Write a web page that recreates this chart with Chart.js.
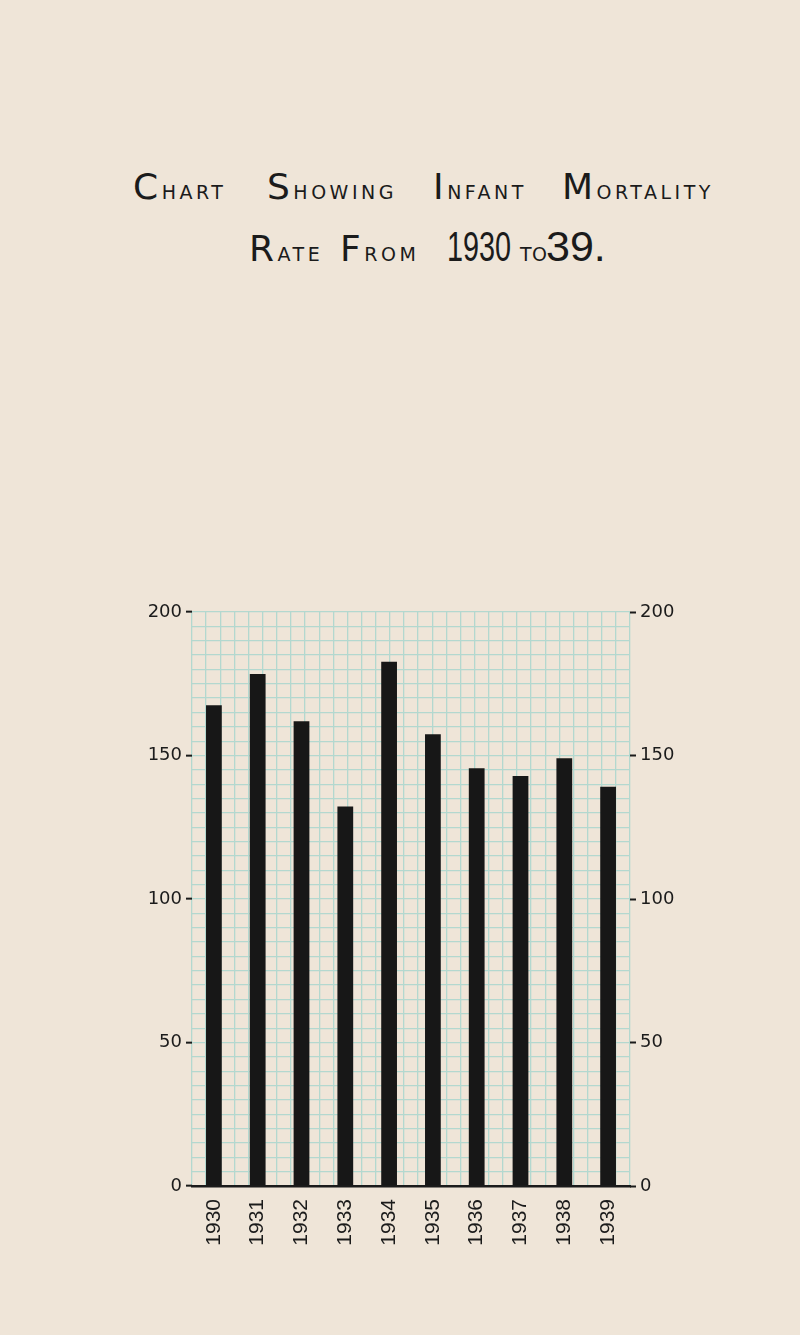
<!DOCTYPE html>
<html>
<head>
<meta charset="utf-8">
<script src="https://cdn.jsdelivr.net/npm/chart.js@4.4.1/dist/chart.umd.min.js"></script>
<style>
  html, body { margin:0; padding:0; background:#efe5d8; }
  body { width:800px; height:1335px; position:relative; overflow:hidden; }
  #c { position:absolute; left:0; top:0; }
  .line { position:absolute; left:0; width:800px; display:flex; align-items:baseline; color:#1b1b1b;
          font-family:"DejaVu Sans", sans-serif; font-size:19px; letter-spacing:3.5px; white-space:nowrap; }
  .line span.w { flex-shrink:0; display:inline-block; }
  .big { font-size:36px; }
  .num { font-family:"Liberation Sans", sans-serif; font-size:43px; letter-spacing:0; display:inline-block; }
  .cond { transform:scaleX(0.67); transform-origin:left bottom; }
</style>
</head>
<body>
<div class="line" style="top:166px;padding-left:133px;">
  <span class="w" style="width:134px"><span class="big">C</span>HART</span>
  <span class="w" style="width:166px"><span class="big">S</span>HOWING</span>
  <span class="w" style="width:129px"><span class="big">I</span>NFANT</span>
  <span class="w"><span class="big">M</span>ORTALITY</span>
</div>
<div class="line" style="top:222px;padding-left:249px;">
  <span class="w" style="width:91px"><span class="big">R</span>ATE</span>
  <span class="w" style="width:107px"><span class="big">F</span>ROM</span>
  <span class="w" style="width:73px"><span class="num cond">1930</span></span>
  <span class="w" style="width:26px;letter-spacing:0.5px">TO</span>
  <span class="w"><span class="num">39.</span></span>
</div>
<canvas id="c" width="800" height="1335"></canvas>
<script>
const years = ['1930','1931','1932','1933','1934','1935','1936','1937','1938','1939'];
const rates = [167.5, 178.4, 161.9, 132.2, 182.7, 157.4, 145.6, 142.9, 149.0, 139.1];
const yMin = 0, yMax = 200, gridStep = 5, labelStep = 50;
const gridColumns = 30;

const gridColor = '#b3d8cf';
const inkColor = '#1b1b1b';
const yFont = { family: 'DejaVu Sans', size: 18 };

const labelOnly = v => (v % labelStep === 0 ? String(v) : '');
const tickCol = ctx => (ctx.tick && ctx.tick.value % labelStep === 0 ? inkColor : 'rgba(0,0,0,0)');

new Chart(document.getElementById('c'), {
  type: 'bar',
  data: {
    labels: years,
    datasets: [{
      data: rates,
      backgroundColor: '#171717',
      borderWidth: 0,
      categoryPercentage: 1,
      barPercentage: 0.36,
      xAxisID: 'x',
      yAxisID: 'y'
    }]
  },
  options: {
    responsive: false,
    animation: false,
    events: [],
    layout: { padding: { top: 612, left: 0, right: 0, bottom: 0 } },
    plugins: { legend: { display: false }, tooltip: { enabled: false }, title: { display: false } },
    scales: {
      x: {
        type: 'category',
        position: 'bottom',
        offset: true,
        grid: { display: false, drawTicks: false },
        border: { display: true, color: inkColor, width: 2.5 },
        ticks: {
          color: inkColor,
          font: { family: 'Liberation Sans', size: 21 },
          minRotation: 90, maxRotation: 90,
          padding: 13,
          autoSkip: false
        },
        afterFit: s => { s.height = 149; }
      },
      xg: {
        type: 'linear',
        position: 'top',
        min: 0, max: gridColumns,
        grid: { color: gridColor, lineWidth: 1.3, drawTicks: false },
        border: { display: false },
        ticks: { display: false, stepSize: 1, maxTicksLimit: 100 },
        afterFit: s => { s.height = 0; }
      },
      y: {
        type: 'linear',
        position: 'left',
        min: yMin, max: yMax,
        grid: { color: gridColor, lineWidth: 1.3, tickColor: tickCol, tickLength: 6, tickWidth: 2 },
        border: { display: false },
        ticks: {
          stepSize: gridStep, maxTicksLimit: 100, autoSkip: false,
          color: inkColor, font: yFont, padding: 4,
          callback: labelOnly
        },
        afterFit: s => { s.width = 192; }
      },
      y2: {
        type: 'linear',
        position: 'right',
        min: yMin, max: yMax,
        grid: { drawOnChartArea: false, tickColor: tickCol, tickLength: 6, tickWidth: 2 },
        border: { display: false },
        ticks: {
          stepSize: gridStep, maxTicksLimit: 100, autoSkip: false,
          color: inkColor, font: yFont, padding: 4,
          callback: labelOnly
        },
        afterFit: s => { s.width = 170; }
      }
    }
  }
});
</script>
</body>
</html>
